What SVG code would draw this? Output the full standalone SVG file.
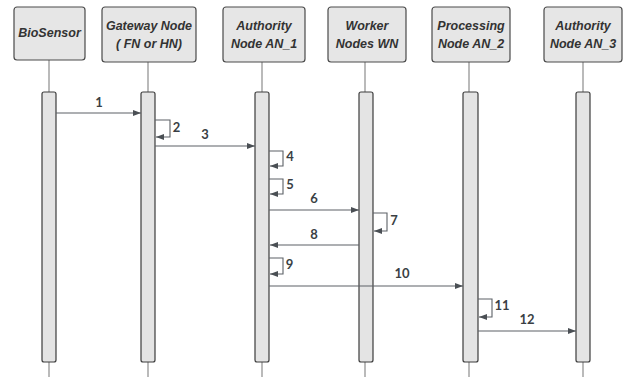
<svg xmlns="http://www.w3.org/2000/svg" width="631" height="377" viewBox="0 0 631 377">
  <style>
    .head rect { fill: #e6e6e6; stroke: #4a4a4a; stroke-width: 1.2; }
    .head text { font-family: "Liberation Sans", Arial, sans-serif; font-size: 12.5px; font-weight: bold; font-style: italic; fill: #333333; text-anchor: middle; }
    .life { stroke: #8c8c8c; stroke-width: 1.2; fill: none; }
    .bar { fill: #e4e4e4; stroke: #3d3d3d; stroke-width: 1.2; }
    .msg { stroke: #5c6166; stroke-width: 1.1; fill: none; marker-end: url(#arrow); }
    .num { font-family: Lato, "Liberation Sans", sans-serif; font-size: 13px; font-weight: bold; fill: #3a3f44; text-anchor: middle; }
  </style>
  <defs>
    <marker id="arrow" viewBox="0 0 8 6" refX="8" refY="3" markerWidth="8" markerHeight="6" markerUnits="userSpaceOnUse" orient="auto">
      <path d="M0,0 L8,3 L0,6 Z" fill="#4a4f54"/>
    </marker>
  </defs>

  <rect width="631" height="377" fill="#ffffff"/>

  <!-- participants: header box, lifeline, activation bar -->
  <g id="biosensor">
    <line class="life" x1="49" y1="60" x2="49" y2="92"/>
    <line class="life" x1="49" y1="362" x2="49" y2="377"/>
    <g class="head">
      <rect x="14" y="7" width="71" height="53" rx="3"/>
      <text x="49.5" y="37">BioSensor</text>
    </g>
    <rect class="bar" x="42" y="92" width="14" height="270" rx="2"/>
  </g>

  <g id="gateway">
    <line class="life" x1="148" y1="62" x2="148" y2="92"/>
    <line class="life" x1="148" y1="362" x2="148" y2="377"/>
    <g class="head">
      <rect x="102" y="7" width="94" height="55" rx="3"/>
      <text x="149" y="30">Gateway Node</text>
      <text x="149" y="48">( FN or HN)</text>
    </g>
    <rect class="bar" x="141" y="92" width="14" height="270" rx="2"/>
  </g>

  <g id="an1">
    <line class="life" x1="262" y1="62" x2="262" y2="92"/>
    <line class="life" x1="262" y1="362" x2="262" y2="377"/>
    <g class="head">
      <rect x="223" y="7" width="82" height="55" rx="3"/>
      <text x="264" y="30">Authority</text>
      <text x="264" y="48">Node AN_1</text>
    </g>
    <rect class="bar" x="255" y="92" width="14" height="270" rx="2"/>
  </g>

  <g id="worker">
    <line class="life" x1="365" y1="62" x2="365" y2="92"/>
    <line class="life" x1="365" y1="362" x2="365" y2="377"/>
    <g class="head">
      <rect x="328" y="7" width="78" height="55" rx="3"/>
      <text x="367" y="30">Worker</text>
      <text x="367" y="48">Nodes WN</text>
    </g>
    <rect class="bar" x="359" y="92" width="14" height="270" rx="2"/>
  </g>

  <g id="an2">
    <line class="life" x1="469" y1="62" x2="469" y2="92"/>
    <line class="life" x1="469" y1="362" x2="469" y2="377"/>
    <g class="head">
      <rect x="432" y="7" width="78" height="55" rx="3"/>
      <text x="471" y="30">Processing</text>
      <text x="471" y="48">Node AN_2</text>
    </g>
    <rect class="bar" x="463" y="92" width="15" height="270" rx="2"/>
  </g>

  <g id="an3">
    <line class="life" x1="583" y1="62" x2="583" y2="92"/>
    <line class="life" x1="583" y1="362" x2="583" y2="377"/>
    <g class="head">
      <rect x="544" y="7" width="78" height="55" rx="3"/>
      <text x="583" y="30">Authority</text>
      <text x="583" y="48">Node AN_3</text>
    </g>
    <rect class="bar" x="576" y="92" width="14" height="270" rx="2"/>
  </g>

  <!-- messages -->
  <g id="messages">
    <path class="msg" d="M56,113 H141"/>
    <text class="num" x="99" y="107">1</text>

    <path class="msg" d="M155,120 H170 V137 H156"/>
    <text class="num" x="176.5" y="132">2</text>

    <path class="msg" d="M155,146 H255"/>
    <text class="num" x="205" y="139">3</text>

    <path class="msg" d="M269,151 H283 V166 H270"/>
    <text class="num" x="290" y="161">4</text>

    <path class="msg" d="M269,179 H283 V194 H270"/>
    <text class="num" x="290" y="189">5</text>

    <path class="msg" d="M269,210 H359"/>
    <text class="num" x="314" y="203">6</text>

    <path class="msg" d="M373,213 H387 V231 H374"/>
    <text class="num" x="394" y="225">7</text>

    <path class="msg" d="M359,245 H270"/>
    <text class="num" x="314" y="239">8</text>

    <path class="msg" d="M269,258 H283 V274 H270"/>
    <text class="num" x="289.5" y="269">9</text>

    <path class="msg" d="M269,286 H463"/>
    <text class="num" x="402" y="278">10</text>

    <path class="msg" d="M478,299 H492 V317 H479"/>
    <text class="num" x="502" y="310">11</text>

    <path class="msg" d="M478,331 H576"/>
    <text class="num" x="527" y="324">12</text>
  </g>
</svg>
